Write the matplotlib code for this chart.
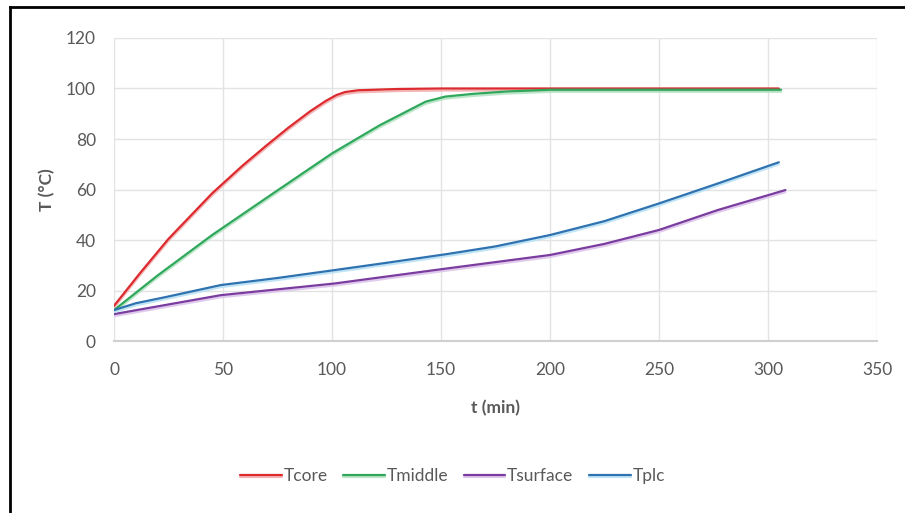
import matplotlib
matplotlib.use('Agg')
import matplotlib.pyplot as plt
import matplotlib.patheffects as pe
from matplotlib.lines import Line2D

plt.rcParams['font.family'] = ['Lato', 'DejaVu Sans']

# --- data ---
t_core = [0, 12, 25, 45, 59, 70, 80, 90, 97, 102, 106, 112, 130, 150, 200, 250, 305]
T_core = [14, 27, 40.5, 58.5, 69.5, 77.5, 84.5, 91, 95, 97.4, 98.6, 99.3, 99.8, 100, 100, 100, 100]

t_middle = [0, 20, 45, 73, 100, 122, 143, 152, 165, 180, 200, 250, 306]
T_middle = [12.3, 26, 42, 58.5, 74.3, 85.5, 94.8, 96.8, 97.9, 98.8, 99.5, 99.5, 99.5]

t_surface = [0, 49, 101, 153, 200, 225, 250, 277, 308]
T_surface = [10.7, 18.2, 22.8, 28.8, 34.1, 38.5, 44, 51.9, 59.8]

t_plc = [0, 10, 24, 49, 75, 101, 125, 153, 175, 200, 225, 250, 277, 305]
T_plc = [12.3, 15, 17.5, 22.2, 25, 28.1, 31, 34.5, 37.5, 42, 47.5, 54.5, 62.4, 70.8]

names = ['Tcore', 'Tmiddle', 'Tsurface', 'Tplc']
colors = ['#dc2a2e', '#2fa85c', '#7a3c9e', '#2f72b0']
glows = ['#f3b0b0', '#b5e3c4', '#dcc4ec', '#b9e2f6']

x_ticks = [0, 50, 100, 150, 200, 250, 300, 350]
y_ticks = [0, 20, 40, 60, 80, 100, 120]

grey = '#595959'

fig = plt.figure(figsize=(9.05, 5.13), dpi=100)
ax = fig.add_axes([0.126, 0.335, 0.843, 0.591])

series = [(t_core, T_core), (t_middle, T_middle), (t_surface, T_surface), (t_plc, T_plc)]
for (tt, TT), name, c, g in zip(series, names, colors, glows):
    ax.plot(tt, TT, color=c, lw=1.6, label=name, solid_capstyle='round',
            path_effects=[pe.SimpleLineShadow(offset=(0, -1.5), shadow_color=g, alpha=0.9),
                          pe.Normal()])

ax.set_xlim(0, 350)
ax.set_ylim(0, 120)
ax.set_xticks(x_ticks)
ax.set_yticks(y_ticks)
ax.grid(True, color='#e3e3e3', lw=1)
ax.set_axisbelow(True)
for s in ['top', 'right', 'left']:
    ax.spines[s].set_visible(False)
ax.spines['bottom'].set_color('#d0d0d0')
ax.spines['bottom'].set_linewidth(1.5)
ax.tick_params(length=0, labelsize=12.5, labelcolor=grey)
ax.tick_params(axis='x', pad=15)
ax.tick_params(axis='y', pad=13)

ax.set_xlabel('t (min)', fontsize=12.5, fontweight='bold', color=grey, labelpad=16)
ax.set_ylabel('T (°C)', fontsize=12.5, fontweight='bold', color=grey, labelpad=8)

fig.legend(*ax.get_legend_handles_labels(), loc='center', bbox_to_anchor=(0.5, 0.072),
           ncol=4, frameon=False, fontsize=12.5, labelcolor=grey,
           handlelength=2.4, handletextpad=0.1, columnspacing=0.9)

# black frame on left and top
fig.add_artist(Line2D([0.011, 0.011], [0, 0.987], transform=fig.transFigure, color='black', lw=2))
fig.add_artist(Line2D([0.011, 1], [0.987, 0.987], transform=fig.transFigure, color='black', lw=2))

fig.savefig('out.png', dpi=100)
